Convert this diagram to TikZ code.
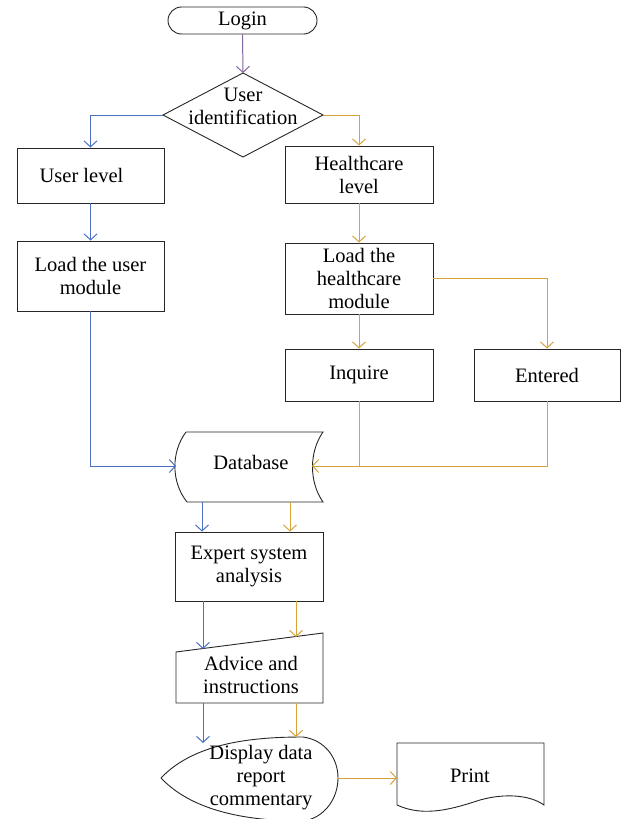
\documentclass[tikz,border=0pt]{standalone}
\usepackage{fontspec}
\setmainfont{Liberation Serif}
\usetikzlibrary{arrows.meta}
\definecolor{cblue}{HTML}{4A6FC4}
\definecolor{corange}{HTML}{D6A23A}
\definecolor{cpurple}{HTML}{8064A2}
\tikzset{
  x=1pt, y=-1pt,
  shapeline/.style={draw=black!85, line width=0.9pt},
  boxnode/.style={shapeline, rectangle, inner sep=0pt, align=center, font=\fontsize{20.5}{23}\selectfont},
  txt/.style={inner sep=0pt, align=center, font=\fontsize{20.5}{23}\selectfont},
  flow/.style={line width=1pt, -{Straight Barb[length=6pt,width=13pt]}},
  bl/.style={flow, draw=cblue},
  og/.style={flow, draw=corange},
  pu/.style={flow, draw=cpurple},
}
\begin{document}
\begin{tikzpicture}
\useasboundingbox (0,0) rectangle (622,819);
% Login
\node[boxnode, rounded corners=13.5pt, minimum width=149pt, minimum height=27pt] (login) at (242.5,20.5) {Login};
% Diamond
\coordinate (dT) at (243,73);
\coordinate (dB) at (243,157);
\coordinate (dL) at (163,115);
\coordinate (dR) at (323,115);
\draw[shapeline] (dT) -- (dR) -- (dB) -- (dL) -- cycle;
\node[txt] (ident) at (243,106) {User\\identification};
% Left column
\node[boxnode, minimum width=147pt, minimum height=55pt] (ulevel) at (90.5,175.5) {\hspace*{-18pt}User level};
\node[boxnode, minimum width=147pt, minimum height=70pt] (umod) at (90.5,276) {Load the user\\module};
% Right column
\node[boxnode, minimum width=148pt, minimum height=57pt] (hlevel) at (359,174.5) {Healthcare\\level};
\node[boxnode, minimum width=148pt, minimum height=71pt] (hmod) at (359,278.5) {Load the\\healthcare\\module};
\node[boxnode, minimum width=148pt, minimum height=52pt] (inq) at (359,375) {Inquire};
\node[boxnode, minimum width=146pt, minimum height=52pt] (ent) at (547,375) {Entered};
% Database
\draw[shapeline] (186,432) -- (323,432) .. controls (309,452) and (309,482) .. (323,502)
  -- (187,502) .. controls (171,482) and (171,452) .. (186,432);
\coordinate (dbL) at (176,466);
\coordinate (dbR) at (312,466);
\node[txt] (db) at (251,462) {Database};
\coordinate (dbB1) at (202,502);
\coordinate (dbB2) at (290,502);
% Expert
\node[boxnode, minimum width=148pt, minimum height=69pt] (exp) at (249,566.5) {Expert system\\analysis};
% Advice
\draw[shapeline] (176,652) -- (323,633) -- (323,703) -- (176,703) -- cycle;
\node[txt] (adv) at (251,675) {Advice and\\instructions};
\coordinate (advT1) at (203,649);
\coordinate (advT2) at (296,637);
\coordinate (advB1) at (203,703);
\coordinate (advB2) at (296,703);
% Display
\draw[shapeline] (161,778) .. controls (195,742) and (255,737) .. (303,737)
  .. controls (325,740) and (338,758) .. (338,778)
  .. controls (338,798) and (325,818) .. (303,821)
  .. controls (255,821) and (195,814) .. (161,778);
\node[txt] (disp) at (261,778) {Display data\\report\\commentary};
\coordinate (dispT1) at (203,743);
\coordinate (dispT2) at (296,737);
\coordinate (dispR) at (338,778);
% Print
\draw[shapeline] (397,805) -- (397,743) -- (544,743) -- (544,805)
  .. controls (530,795) and (505,793) .. (480,800)
  .. controls (455,808) and (425,818) .. (397,805);
\node[txt] (print) at (470,776) {Print};
\coordinate (prL) at (397,778);
% Connectors
\draw[pu] (login.south) -- (dT);
\draw[bl] (dL) -| (ulevel.north);
\draw[og] (dR) -| (hlevel.north);
\draw[bl] (ulevel.south) -- (umod.north);
\draw[bl] (umod.south) |- (dbL);
\draw[og] (hlevel.south) -- (hmod.north);
\draw[og] (hmod.south) -- (inq.north);
\draw[og] (hmod.east) -| (ent.north);
\draw[og] (inq.south) |- (dbR);
\draw[line width=1pt, draw=corange] (ent.south) |- (inq.south |- dbR);
\draw[bl] (dbB1) -- (dbB1 |- exp.north);
\draw[og] (dbB2) -- (dbB2 |- exp.north);
\draw[bl] (advT1 |- exp.south) -- (advT1);
\draw[og] (advT2 |- exp.south) -- (advT2);
\draw[bl] (advB1) -- (dispT1);
\draw[og] (advB2) -- (dispT2);
\draw[og] (dispR) -- (prL);
\end{tikzpicture}
\end{document}
